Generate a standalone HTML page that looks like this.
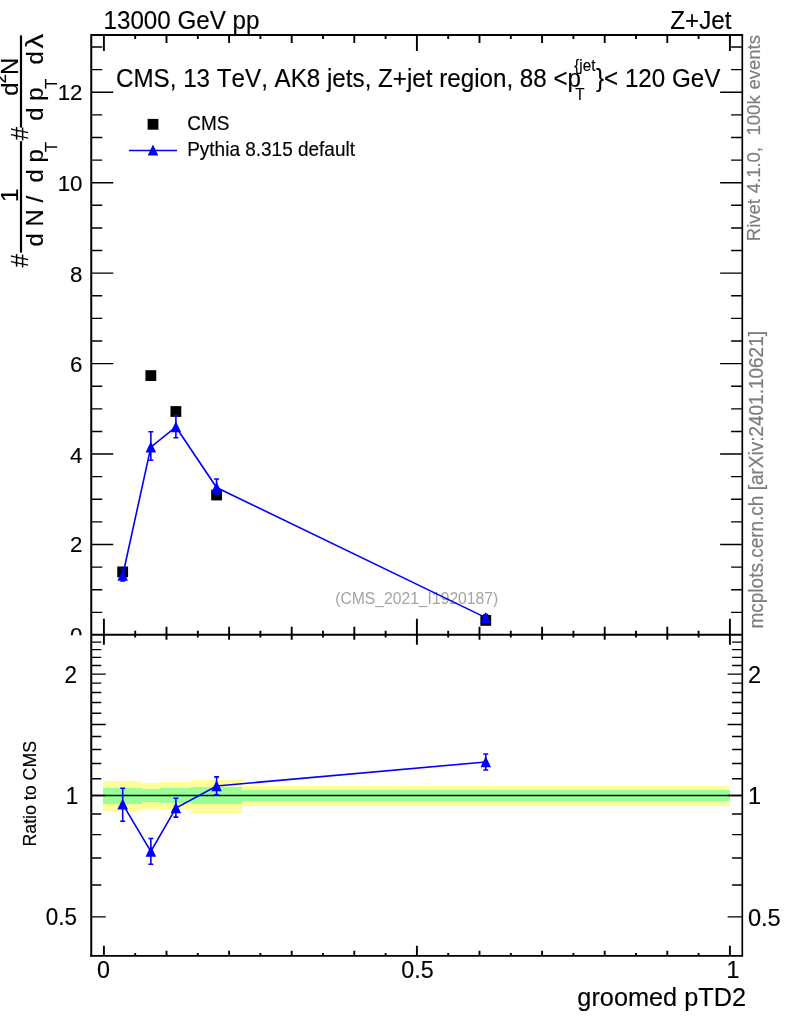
<!DOCTYPE html>
<html lang="en"><head><meta charset="utf-8"><title>Z+Jet groomed pTD2</title>
<style>html,body{margin:0;padding:0;background:#fff}body{width:786px;height:1024px;overflow:hidden}svg{display:block}text{font-family:"Liberation Sans", sans-serif;font-kerning:none;white-space:pre;fill:#000;stroke:#000;stroke-width:0.15px}text.g{fill:#7d7d7d;stroke:#7d7d7d;stroke-width:0.2px}text.g2{fill:#a4a4a4;stroke:none}</style>
</head><body>
<svg width="786" height="1024" viewBox="0 0 786 1024">
<rect width="786" height="1024" fill="#fff"/>
<g id="bands" shape-rendering="crispEdges">
<rect x="103.00" y="781.00" width="38.90" height="30.00" fill="#ffff99"/>
<rect x="141.90" y="782.70" width="17.80" height="26.30" fill="#ffff99"/>
<rect x="159.70" y="782.00" width="31.40" height="28.00" fill="#ffff99"/>
<rect x="191.10" y="780.00" width="51.10" height="33.00" fill="#ffff99"/>
<rect x="242.20" y="785.80" width="487.70" height="20.10" fill="#ffff99"/>
<rect x="103.00" y="787.80" width="38.90" height="15.80" fill="#99ff99"/>
<rect x="141.90" y="788.90" width="17.80" height="13.10" fill="#99ff99"/>
<rect x="159.70" y="788.30" width="31.40" height="14.80" fill="#99ff99"/>
<rect x="191.10" y="787.30" width="51.10" height="16.80" fill="#99ff99"/>
<rect x="242.20" y="789.90" width="487.70" height="11.10" fill="#99ff99"/>
</g>
<text transform="translate(416.70,604.00) scale(1.000,1.030)" font-size="15.7" text-anchor="middle" class="g2">(CMS_2021_I1920187)</text>
<line x1="91.25" y1="795.50" x2="742.10" y2="795.50" stroke="#000" stroke-width="1.3"/>
<g id="frame" stroke="#000" stroke-width="2" fill="none" stroke-linecap="butt">
<path d="M90.25 35.00H743.10 M91.25 35.00V956.60"/>
<path stroke-width="1.7" d="M742.30 35.00V956.60 M90.25 955.85H743.15"/>
<line x1="91.25" y1="634.70" x2="742.10" y2="634.70"/>
</g>
<g id="ticks" stroke="#000" stroke-width="1.4" fill="none">
<path d="M91.25 612.34h11 M742.10 612.34h-11"/>
<path d="M91.25 589.73h11 M742.10 589.73h-11"/>
<path d="M91.25 567.11h11 M742.10 567.11h-11"/>
<path d="M91.25 544.50h22 M742.10 544.50h-22"/>
<path d="M91.25 521.89h11 M742.10 521.89h-11"/>
<path d="M91.25 499.28h11 M742.10 499.28h-11"/>
<path d="M91.25 476.66h11 M742.10 476.66h-11"/>
<path d="M91.25 454.05h22 M742.10 454.05h-22"/>
<path d="M91.25 431.44h11 M742.10 431.44h-11"/>
<path d="M91.25 408.83h11 M742.10 408.83h-11"/>
<path d="M91.25 386.21h11 M742.10 386.21h-11"/>
<path d="M91.25 363.60h22 M742.10 363.60h-22"/>
<path d="M91.25 340.99h11 M742.10 340.99h-11"/>
<path d="M91.25 318.38h11 M742.10 318.38h-11"/>
<path d="M91.25 295.76h11 M742.10 295.76h-11"/>
<path d="M91.25 273.15h22 M742.10 273.15h-22"/>
<path d="M91.25 250.54h11 M742.10 250.54h-11"/>
<path d="M91.25 227.93h11 M742.10 227.93h-11"/>
<path d="M91.25 205.31h11 M742.10 205.31h-11"/>
<path d="M91.25 182.70h22 M742.10 182.70h-22"/>
<path d="M91.25 160.09h11 M742.10 160.09h-11"/>
<path d="M91.25 137.48h11 M742.10 137.48h-11"/>
<path d="M91.25 114.86h11 M742.10 114.86h-11"/>
<path d="M91.25 92.25h22 M742.10 92.25h-22"/>
<path d="M91.25 69.64h11 M742.10 69.64h-11"/>
<path d="M91.25 47.02h11 M742.10 47.02h-11"/>
<path stroke-width="1.9" d="M103.90 35.00v16.0 M103.90 634.70v-16.0 M103.90 634.70v10.0 M103.90 955.70v-10.0"/>
<path stroke-width="1.9" d="M135.20 35.00v4.0 M135.20 634.70v-4.0 M135.20 634.70v2.8 M135.20 955.70v-2.8"/>
<path stroke-width="1.9" d="M166.50 35.00v8.0 M166.50 634.70v-8.0 M166.50 634.70v5.0 M166.50 955.70v-5.0"/>
<path stroke-width="1.9" d="M197.80 35.00v4.0 M197.80 634.70v-4.0 M197.80 634.70v2.8 M197.80 955.70v-2.8"/>
<path stroke-width="1.9" d="M229.10 35.00v8.0 M229.10 634.70v-8.0 M229.10 634.70v5.0 M229.10 955.70v-5.0"/>
<path stroke-width="1.9" d="M260.40 35.00v4.0 M260.40 634.70v-4.0 M260.40 634.70v2.8 M260.40 955.70v-2.8"/>
<path stroke-width="1.9" d="M291.70 35.00v8.0 M291.70 634.70v-8.0 M291.70 634.70v5.0 M291.70 955.70v-5.0"/>
<path stroke-width="1.9" d="M323.00 35.00v4.0 M323.00 634.70v-4.0 M323.00 634.70v2.8 M323.00 955.70v-2.8"/>
<path stroke-width="1.9" d="M354.30 35.00v8.0 M354.30 634.70v-8.0 M354.30 634.70v5.0 M354.30 955.70v-5.0"/>
<path stroke-width="1.9" d="M385.60 35.00v4.0 M385.60 634.70v-4.0 M385.60 634.70v2.8 M385.60 955.70v-2.8"/>
<path stroke-width="1.9" d="M416.90 35.00v16.0 M416.90 634.70v-16.0 M416.90 634.70v10.0 M416.90 955.70v-10.0"/>
<path stroke-width="1.9" d="M448.20 35.00v4.0 M448.20 634.70v-4.0 M448.20 634.70v2.8 M448.20 955.70v-2.8"/>
<path stroke-width="1.9" d="M479.50 35.00v8.0 M479.50 634.70v-8.0 M479.50 634.70v5.0 M479.50 955.70v-5.0"/>
<path stroke-width="1.9" d="M510.80 35.00v4.0 M510.80 634.70v-4.0 M510.80 634.70v2.8 M510.80 955.70v-2.8"/>
<path stroke-width="1.9" d="M542.10 35.00v8.0 M542.10 634.70v-8.0 M542.10 634.70v5.0 M542.10 955.70v-5.0"/>
<path stroke-width="1.9" d="M573.40 35.00v4.0 M573.40 634.70v-4.0 M573.40 634.70v2.8 M573.40 955.70v-2.8"/>
<path stroke-width="1.9" d="M604.70 35.00v8.0 M604.70 634.70v-8.0 M604.70 634.70v5.0 M604.70 955.70v-5.0"/>
<path stroke-width="1.9" d="M636.00 35.00v4.0 M636.00 634.70v-4.0 M636.00 634.70v2.8 M636.00 955.70v-2.8"/>
<path stroke-width="1.9" d="M667.30 35.00v8.0 M667.30 634.70v-8.0 M667.30 634.70v5.0 M667.30 955.70v-5.0"/>
<path stroke-width="1.9" d="M698.60 35.00v4.0 M698.60 634.70v-4.0 M698.60 634.70v2.8 M698.60 955.70v-2.8"/>
<path stroke-width="1.9" d="M729.90 35.00v16.0 M729.90 634.70v-16.0 M729.90 634.70v10.0 M729.90 955.70v-10.0"/>
<path d="M91.25 916.91h14.5 M742.10 916.91h-14.5"/>
<path d="M91.25 884.97h10.0 M742.10 884.97h-10.0"/>
<path d="M91.25 857.97h10.0 M742.10 857.97h-10.0"/>
<path d="M91.25 834.58h10.0 M742.10 834.58h-10.0"/>
<path d="M91.25 813.95h10.0 M742.10 813.95h-10.0"/>
<path d="M91.25 795.50h14.5 M742.10 795.50h-14.5"/>
<path d="M91.25 778.81h10.0 M742.10 778.81h-10.0"/>
<path d="M91.25 763.57h10.0 M742.10 763.57h-10.0"/>
<path d="M91.25 749.55h10.0 M742.10 749.55h-10.0"/>
<path d="M91.25 736.57h10.0 M742.10 736.57h-10.0"/>
<path d="M91.25 724.48h14.5 M742.10 724.48h-14.5"/>
<path d="M91.25 713.18h10.0 M742.10 713.18h-10.0"/>
<path d="M91.25 702.56h10.0 M742.10 702.56h-10.0"/>
<path d="M91.25 692.55h10.0 M742.10 692.55h-10.0"/>
<path d="M91.25 683.08h10.0 M742.10 683.08h-10.0"/>
<path d="M91.25 674.09h14.5 M742.10 674.09h-14.5"/>
<path d="M91.25 665.55h10.0 M742.10 665.55h-10.0"/>
<path d="M91.25 657.40h10.0 M742.10 657.40h-10.0"/>
<path d="M91.25 649.62h10.0 M742.10 649.62h-10.0"/>
<path d="M91.25 642.16h10.0 M742.10 642.16h-10.0"/>
</g>
<g id="cms" fill="#000">
<rect x="117.28" y="566.50" width="10.8" height="10.8"/>
<rect x="145.45" y="370.20" width="10.8" height="10.8"/>
<rect x="170.49" y="406.10" width="10.8" height="10.8"/>
<rect x="211.18" y="489.60" width="10.8" height="10.8"/>
<rect x="480.36" y="615.00" width="10.8" height="10.8"/>
</g>
<g id="pythia" stroke="#0000ff" fill="none">
<polyline stroke-width="1.6" points="122.68,575.50 150.85,447.20 175.89,427.00 216.58,487.50 485.76,617.60"/>
<g stroke-width="1.6">
<path d="M122.68 569.30V581.00 M120.18 569.30h5.0 M120.18 581.00h5.0"/>
<path d="M150.85 431.80V460.20 M148.35 431.80h5.0 M148.35 460.20h5.0"/>
<path d="M175.89 415.60V437.80 M173.39 415.60h5.0 M173.39 437.80h5.0"/>
<path d="M216.58 479.00V494.00 M214.08 479.00h5.0 M214.08 494.00h5.0"/>
<path d="M485.76 614.50V620.50 M483.26 614.50h5.0 M483.26 620.50h5.0"/>
</g>
<g fill="#0000ff" stroke="none">
<path d="M122.68 569.80L127.98 580.80L117.38 580.80Z"/>
<path d="M150.85 441.50L156.15 452.50L145.55 452.50Z"/>
<path d="M175.89 421.30L181.19 432.30L170.59 432.30Z"/>
<path d="M216.58 481.80L221.88 492.80L211.28 492.80Z"/>
<path d="M485.76 611.90L491.06 622.90L480.46 622.90Z"/>
</g></g>
<g id="ratio" stroke="#0000ff" fill="none">
<polyline stroke-width="1.6" points="122.68,804.10 150.85,851.50 175.89,808.00 216.58,786.00 485.76,762.00"/>
<g stroke-width="1.6">
<path d="M122.68 788.30V821.20 M120.18 788.30h5.0 M120.18 821.20h5.0"/>
<path d="M150.85 838.50V864.20 M148.35 838.50h5.0 M148.35 864.20h5.0"/>
<path d="M175.89 798.30V817.10 M173.39 798.30h5.0 M173.39 817.10h5.0"/>
<path d="M216.58 776.90V794.70 M214.08 776.90h5.0 M214.08 794.70h5.0"/>
<path d="M485.76 754.00V770.00 M483.26 754.00h5.0 M483.26 770.00h5.0"/>
</g>
<g fill="#0000ff" stroke="none">
<path d="M122.68 798.40L127.98 809.40L117.38 809.40Z"/>
<path d="M150.85 845.80L156.15 856.80L145.55 856.80Z"/>
<path d="M175.89 802.30L181.19 813.30L170.59 813.30Z"/>
<path d="M216.58 780.30L221.88 791.30L211.28 791.30Z"/>
<path d="M485.76 756.30L491.06 767.30L480.46 767.30Z"/>
</g></g>
<g id="legend">
<rect x="147.6" y="118.9" width="10.8" height="10.8" fill="#000"/>
<line x1="129" y1="150.5" x2="177" y2="150.5" stroke="#0000ff" stroke-width="1.3"/>
<path fill="#0000ff" d="M153.00 144.60L158.30 155.60L147.70 155.60Z"/>
<text transform="translate(187.20,130.00) scale(1.000,1.030)" font-size="19">CMS</text>
<text transform="translate(187.20,156.00) scale(1.000,1.030)" font-size="19">Pythia 8.315 default</text>
</g>
<text transform="translate(103.50,29.00) scale(1.000,1.030)" font-size="24.2">13000 GeV pp</text>
<text transform="translate(731.50,29.00) scale(1.000,1.030)" font-size="24.2" text-anchor="end">Z+Jet</text>
<text transform="translate(116.00,87.00) scale(1.000,1.030)" font-size="24.2">CMS, 13 TeV, AK8 jets, Z+jet region, 88 &lt;p</text>
<text transform="translate(574.30,70.50) scale(1.000,1.030)" font-size="15.2">{jet</text>
<text transform="translate(575.20,99.80) scale(1.000,1.030)" font-size="15.2">T</text>
<text transform="translate(596.00,87.00) scale(1.000,1.030)" font-size="24.2">}&lt; 120 GeV</text>
<text transform="translate(82.50,552.30) scale(1.000,1.030)" font-size="22.3" text-anchor="end">2</text>
<text transform="translate(82.50,462.85) scale(1.000,1.030)" font-size="22.3" text-anchor="end">4</text>
<text transform="translate(82.50,372.30) scale(1.000,1.030)" font-size="22.3" text-anchor="end">6</text>
<text transform="translate(82.50,282.25) scale(1.000,1.030)" font-size="22.3" text-anchor="end">8</text>
<text transform="translate(82.50,191.25) scale(1.000,1.030)" font-size="22.3" text-anchor="end">10</text>
<text transform="translate(82.50,100.05) scale(1.000,1.030)" font-size="22.3" text-anchor="end">12</text>
<clipPath id="c0"><rect x="0" y="0" width="91" height="635.2"/></clipPath>
<g clip-path="url(#c0)"><text transform="translate(82.50,642.75) scale(1.000,1.030)" font-size="22.3" text-anchor="end">0</text></g>
<text transform="translate(76.90,682.59) scale(1.000,1.030)" font-size="22.4" text-anchor="end">2</text>
<text transform="translate(747.90,682.79) scale(1.000,1.030)" font-size="23.6">2</text>
<text transform="translate(78.10,804.00) scale(1.000,1.030)" font-size="22.4" text-anchor="end">1</text>
<text transform="translate(747.90,804.20) scale(1.000,1.030)" font-size="23.6">1</text>
<text transform="translate(76.90,925.41) scale(1.000,1.030)" font-size="22.4" text-anchor="end">0.5</text>
<text transform="translate(747.90,925.61) scale(1.000,1.030)" font-size="23.6">0.5</text>
<text transform="translate(103.40,978.10) scale(1.000,1.030)" font-size="23.3" text-anchor="middle">0</text>
<text transform="translate(417.50,978.10) scale(1.000,1.030)" font-size="23.3" text-anchor="middle">0.5</text>
<text transform="translate(732.90,978.10) scale(1.000,1.030)" font-size="23.3" text-anchor="middle">1</text>
<text transform="translate(746.00,1006.40) scale(1.000,0.995)" font-size="25.3" text-anchor="end">groomed pTD2</text>
<text transform="translate(760.40,241.20) rotate(-90) scale(1.000,1.030)" font-size="18.5" class="g" word-spacing="0.66">Rivet 4.1.0,  100k events</text>
<text transform="translate(762.50,628.50) rotate(-90) scale(1.000,1.030)" font-size="19.0" class="g">mcplots.cern.ch [arXiv:2401.10621]</text>
<text transform="translate(36.40,846.60) rotate(-90) scale(1.000,1.030)" font-size="17.8">Ratio to CMS</text>
<g id="ytitle">
<text transform="translate(28.00,267.20) rotate(-90) scale(1.000,1.030)" font-size="24">#</text>
<line x1="21" y1="252.6" x2="21" y2="141.2" stroke="#000" stroke-width="2.2"/>
<text transform="translate(17.90,202.10) rotate(-90) scale(1.000,1.030)" font-size="24">1</text>
<text transform="translate(42.90,246.40) rotate(-90) scale(1.000,1.030)" font-size="24">d N /  d p</text>
<text transform="translate(56.50,152.10) rotate(-90) scale(1.000,1.030)" font-size="16.5">T</text>
<text transform="translate(28.00,140.20) rotate(-90) scale(1.000,1.030)" font-size="24">#</text>
<line x1="21" y1="127.6" x2="21" y2="35.4" stroke="#000" stroke-width="2.2"/>
<text transform="translate(17.70,95.70) rotate(-90) scale(1.000,1.030)" font-size="24">d</text>
<text transform="translate(6.00,83.30) rotate(-90) scale(1.000,1.030)" font-size="16.5">2</text>
<text transform="translate(17.70,75.00) rotate(-90) scale(1.000,1.030)" font-size="24">N</text>
<text transform="translate(43.30,120.70) rotate(-90) scale(1.000,1.030)" font-size="24">d p</text>
<text transform="translate(56.80,88.70) rotate(-90) scale(1.000,1.030)" font-size="16.5">T</text>
<text transform="translate(43.30,64.60) rotate(-90) scale(1.000,1.030)" font-size="24">d</text>
<text transform="translate(43.30,48.60) rotate(-90) scale(1.220,1.030)" font-size="24">λ</text>
</g>
</svg>
</body></html>
